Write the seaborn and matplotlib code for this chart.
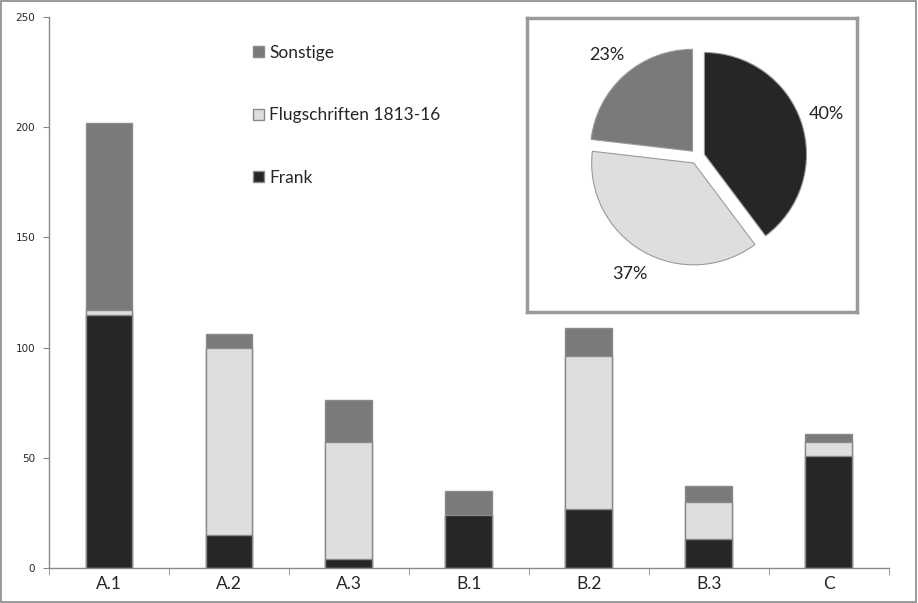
import matplotlib
matplotlib.use("Agg")
import matplotlib.pyplot as plt
from matplotlib.patches import Patch, Rectangle
import seaborn as sns
import numpy as np

categories = ["A.1", "A.2", "A.3", "B.1", "B.2", "B.3", "C"]
frank = [115, 15, 4, 24, 27, 13, 51]
flugschriften = [2, 85, 53, 0, 69, 17, 6]
sonstige = [85, 6, 19, 11, 13, 7, 4]
series_names = ["Frank", "Flugschriften 1813-16", "Sonstige"]
y_ticks = [0, 50, 100, 150, 200, 250]

c_frank = "#262626"
c_flug = "#dedede"
c_sonst = "#7a7a7a"
edge = "#8a8a8a"

sns.set_style("white")
plt.rcParams["font.family"] = ["Lato", "DejaVu Sans"]

fig = plt.figure(figsize=(9.18, 6.03), dpi=100)
ax = fig.add_axes([0.0534, 0.058, 0.9146, 0.914])

f = np.array(frank)
fl = np.array(flugschriften)
so = np.array(sonstige)

kw = dict(width=0.39, saturation=1, edgecolor=edge, linewidth=1.0, ax=ax)
sns.barplot(x=categories, y=f + fl + so, color=c_sonst, **kw)
sns.barplot(x=categories, y=f + fl, color=c_flug, **kw)
sns.barplot(x=categories, y=f, color=c_frank, **kw)

ax.set_ylim(0, 250)
ax.set_xlim(-0.5, len(categories) - 0.5)
ax.set_yticks(y_ticks)
ax.set_yticklabels([str(t) for t in y_ticks], fontfamily="DejaVu Sans", fontsize=7.5)
ax.tick_params(axis="y", which="major", length=4, color="#888888", direction="out", left=True, pad=6)
ax.set_xticks(range(len(categories)))
ax.set_xticklabels(categories, fontsize=12.5)
ax.tick_params(axis="x", which="major", length=0, pad=6)
ax.set_xticks(np.arange(-0.5, len(categories)), minor=True)
ax.tick_params(axis="x", which="minor", length=5, color="#888888", direction="out", bottom=True)
for s in ["top", "right"]:
    ax.spines[s].set_visible(False)
for s in ["left", "bottom"]:
    ax.spines[s].set_color("#888888")
    ax.spines[s].set_linewidth(1)
ax.set_xlabel("")
ax.set_ylabel("")
ax.grid(False)

handles = [Patch(facecolor=c_sonst, edgecolor=edge), Patch(facecolor=c_flug, edgecolor=edge),
           Patch(facecolor=c_frank, edgecolor=edge)]
labels = [series_names[2], series_names[1], series_names[0]]
ax.legend(handles, labels, loc="upper left", bbox_to_anchor=(0.235, 0.962), frameon=False,
          fontsize=12.5, labelspacing=2.68, handlelength=0.62, handleheight=0.62,
          handletextpad=0.3, borderaxespad=0)

# inset pie
pax = fig.add_axes([0.574, 0.4826, 0.36, 0.4874])
totals = [f.sum(), fl.sum(), so.sum()]
wedges, texts, autotexts = pax.pie(
    totals, colors=[c_frank, c_flug, c_sonst], startangle=90, counterclock=False,
    explode=[0.07, 0.07, 0.07], radius=0.97, center=(0.05, 0.08),
    autopct=lambda p: f"{p:.0f}%", pctdistance=1.26,
    wedgeprops=dict(edgecolor="#9a9a9a", linewidth=0.8),
    textprops=dict(fontsize=13, color="#222222"))
pax.set_xlim(-1.57, 1.57)
pax.set_ylim(-1.4, 1.4)
pax.set_aspect("auto")
pax.set_xticks([])
pax.set_yticks([])
pax.set_frame_on(True)
pax.set_facecolor("white")
for s in pax.spines.values():
    s.set_visible(True)
    s.set_color("#9a9a9a")
    s.set_linewidth(2.5)

fig.patches.append(Rectangle((0.001, 0.001), 0.997, 0.997, transform=fig.transFigure,
                             fill=False, edgecolor="#888888", linewidth=1.2))

fig.savefig("out.png", dpi=100)
